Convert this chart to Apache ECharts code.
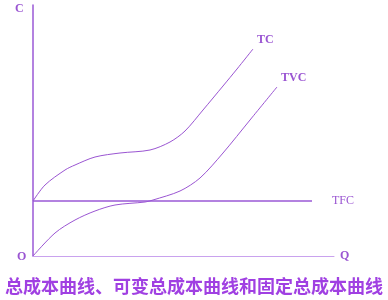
<!DOCTYPE html>
<html><head><meta charset="utf-8">
<script src="https://cdn.jsdelivr.net/npm/echarts@6/dist/echarts.min.js"></script>
<style>html,body{margin:0;padding:0;background:#fff}#c{width:388px;height:300px}</style>
</head><body><div id="c"></div>
<script>
var titleText = '总成本曲线、可变总成本曲线和固定总成本曲线';
var tcData = [[0,55],[12,71],[32,86],[42,91],[62,99],[87,103],[117,106],[137,114],[152,125],[170,146],[190,170],[204,187],[220,207]];
var tvcData = [[0,0],[22,23],[42,36],[62,45],[82,51],[112,54],[120,56],[147,65],[167,78],[190,103],[217,136],[244,169]];
var tfcData = [[0,55],[279,55]];
var seriesNames = ['TC','TVC','TFC'];
var xName = 'Q', yName = 'C', originName = 'O';

var purple = '#9a55d2';
var chart = echarts.init(document.getElementById('c'));
var serif = '"Liberation Serif","DejaVu Serif",serif';
chart.setOption({
  animation: false,
  backgroundColor: '#fff',
  title: {text: titleText, left: 'center', top: 272,
    textStyle: {color: '#a040e2', fontSize: 18, fontWeight: 'bold', fontFamily: '"Noto Sans CJK SC"'}},
  grid: {left: 33, right: 54, top: 5, bottom: 44},
  xAxis: {type: 'value', min: 0, max: 301, name: xName, nameLocation: 'end', nameGap: 6,
    nameTextStyle: {color: '#9a55d2', fontFamily: serif, fontSize: 12, fontWeight: 'bold', verticalAlign: 'middle'},
    axisLine: {lineStyle: {color: '#c9a2ee', width: 1}}, axisTick: {show: false}, axisLabel: {show: false}, splitLine: {show: false}},
  yAxis: {type: 'value', min: 0, max: 251,
    axisLine: {lineStyle: {color: '#9a58d6', width: 1.5}}, axisTick: {show: false}, axisLabel: {show: false}, splitLine: {show: false}},
  graphic: [
    {type: 'text', left: 15, top: 3, style: {text: yName, fill: '#9a55d2', font: 'bold 12px ' + serif}},
    {type: 'text', left: 17, top: 251, style: {text: originName, fill: '#9a55d2', font: 'bold 12px ' + serif}}
  ],
  series: [
    {name: seriesNames[0], type: 'line', data: tcData, smooth: 0.3, showSymbol: false,
     lineStyle: {color: purple, width: 1},
     endLabel: {show: true, formatter: '{a}', color: '#9a55d2', fontFamily: serif, fontSize: 12, fontWeight: 'bold', offset: [-4, -9]}},
    {name: seriesNames[1], type: 'line', data: tvcData, smooth: 0.3, showSymbol: false,
     lineStyle: {color: purple, width: 1},
     endLabel: {show: true, formatter: '{a}', color: '#9a55d2', fontFamily: serif, fontSize: 12, fontWeight: 'bold', offset: [-4, -9]}},
    {name: seriesNames[2], type: 'line', data: tfcData, showSymbol: false,
     lineStyle: {color: '#9a58d6', width: 1.5},
     endLabel: {show: true, formatter: '{a}', color: '#9a55d2', fontFamily: serif, fontSize: 12, offset: [12, 0]}}
  ]
});
</script></body></html>
